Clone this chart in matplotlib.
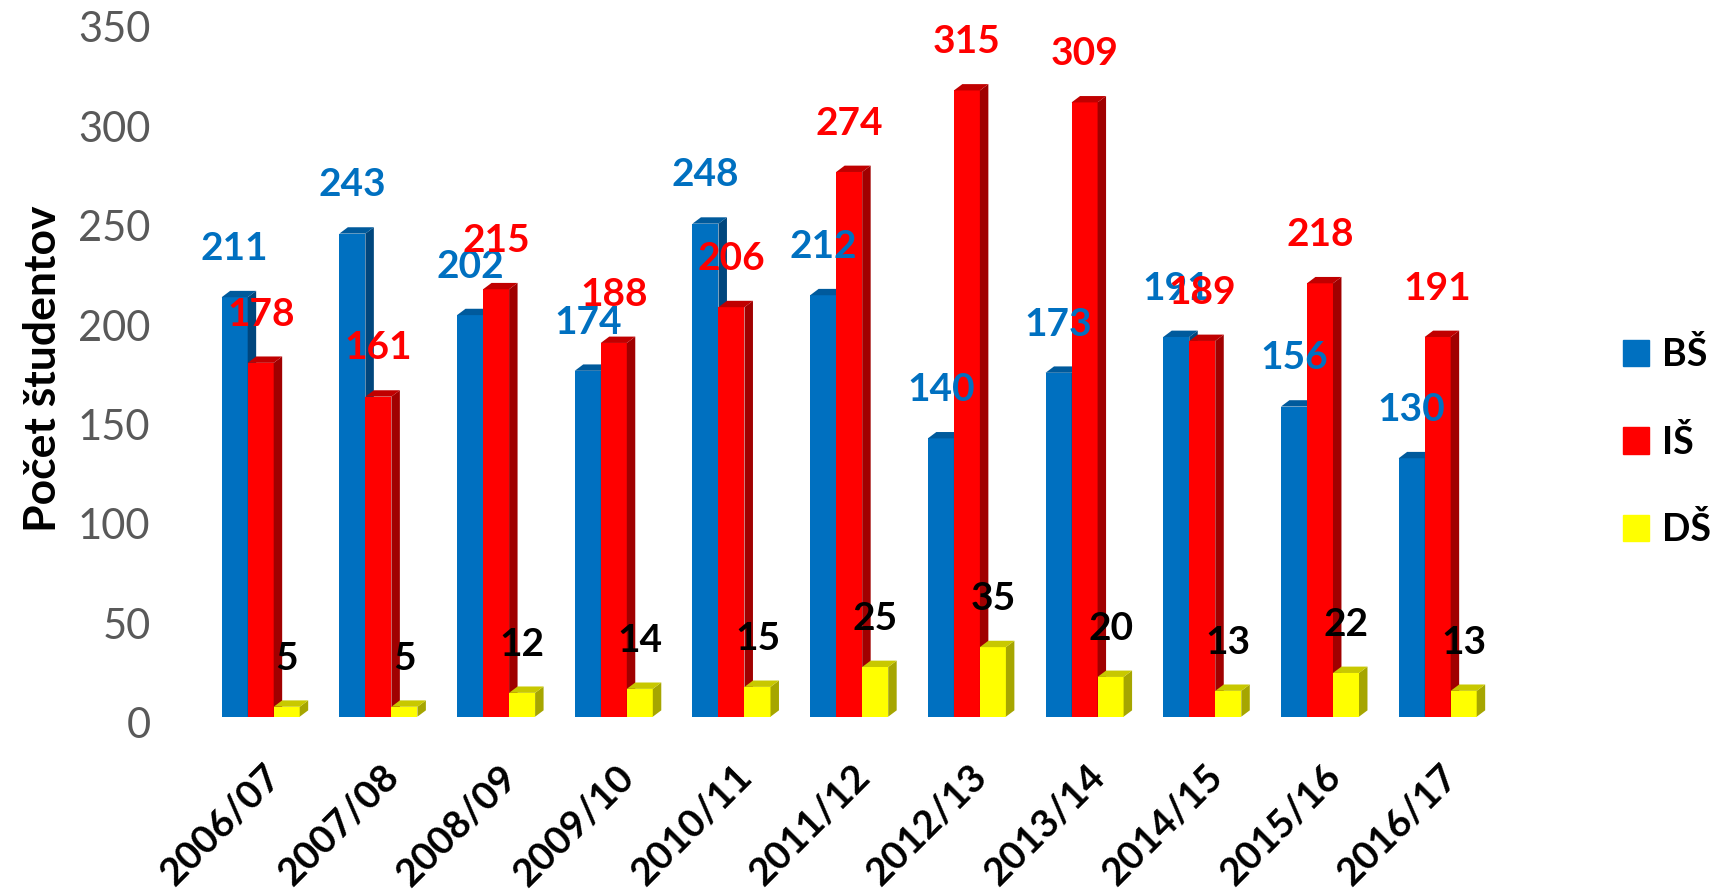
import numpy as np
import matplotlib.pyplot as plt
from matplotlib.patches import Polygon, Patch
from matplotlib.transforms import ScaledTranslation

years = ["2006/07", "2007/08", "2008/09", "2009/10", "2010/11", "2011/12",
         "2012/13", "2013/14", "2014/15", "2015/16", "2016/17"]
bs = [211, 243, 202, 174, 248, 212, 140, 173, 191, 156, 130]
ist = [178, 161, 215, 188, 206, 274, 315, 309, 189, 218, 191]
ds = [5, 5, 12, 14, 15, 25, 35, 20, 13, 22, 13]

series = [("BŠ", bs, "#0070C0", "#005A9C", "#00467D", "#0070C0"),
          ("IŠ", ist, "#FF0000", "#C00000", "#A00000", "#FF0000"),
          ("DŠ", ds, "#FFFF00", "#C8C800", "#A6A600", "#000000")]

W, H = 1713, 894
fig = plt.figure(figsize=(W / 100, H / 100), dpi=100)
ax = fig.add_axes([178.3 / W, 177.3 / H, 1330 / W, 695.8 / H])
ax.set_xlim(-0.7, 10.6)
ax.set_ylim(0, 350)

w = 0.221      # bar width (data units)
dx = 0.072     # depth offset in x
dy = 3.2       # depth offset in y
x = np.arange(len(years))

for k, (name, vals, front, top, side, lblcol) in enumerate(series):
    pos = x + (k - 1) * w
    ax.bar(pos, vals, width=w, color=front, zorder=2 + k * 0.1, label=name)
    for p, v in zip(pos, vals):
        x0, x1 = p - w / 2, p + w / 2
        ax.add_patch(Polygon([(x1, 0), (x1 + dx, dy), (x1 + dx, v + dy), (x1, v)],
                             closed=True, facecolor=side, edgecolor="none",
                             zorder=2 + k * 0.1))
        ax.add_patch(Polygon([(x0, v), (x0 + dx, v + dy), (x1 + dx, v + dy), (x1, v)],
                             closed=True, facecolor=top, edgecolor="none",
                             zorder=2 + k * 0.1))
    for p, v in zip(pos, vals):
        ax.text(p, v + 24.5, str(v), ha="center", va="center", color=lblcol,
                fontsize=28, fontweight="bold", family="Lato", zorder=5 + k)

for s in ax.spines.values():
    s.set_visible(False)

ax.set_yticks(np.arange(0, 351, 50))
ax.tick_params(axis="y", length=0, pad=20, labelsize=30, labelcolor="#595959")
for lbl in ax.get_yticklabels():
    lbl.set_family("Lato")
    lbl.set_transform(lbl.get_transform() + ScaledTranslation(0, -6 / 100, fig.dpi_scale_trans))

ax.set_xticks(x)
ax.set_xticklabels(years, rotation=45, ha="right", va="top",
                   rotation_mode="anchor", fontsize=28, fontweight="bold",
                   family="Lato")
ax.tick_params(axis="x", length=0, pad=30)
for lbl in ax.get_xticklabels():
    lbl.set_transform(lbl.get_transform() + ScaledTranslation(2 / 100, 0, fig.dpi_scale_trans))

fig.text(43 / W, 1 - 369 / H, "Počet študentov", rotation=90, ha="center",
         va="center", fontsize=32, fontweight="bold", family="Lato")

handles = [Patch(color=c) for _, _, c, _, _, _ in series]
leg = ax.legend(handles, [s[0] for s in series], loc="center left",
                bbox_to_anchor=(1623 / W, 1 - 442 / H), bbox_transform=fig.transFigure,
                frameon=False, borderpad=0, borderaxespad=0,
                handlelength=0.7, handleheight=0.7, handletextpad=0.35,
                labelspacing=1.4, prop={"family": "Lato", "weight": "bold", "size": 27})

fig.savefig("out.png", dpi=100)
